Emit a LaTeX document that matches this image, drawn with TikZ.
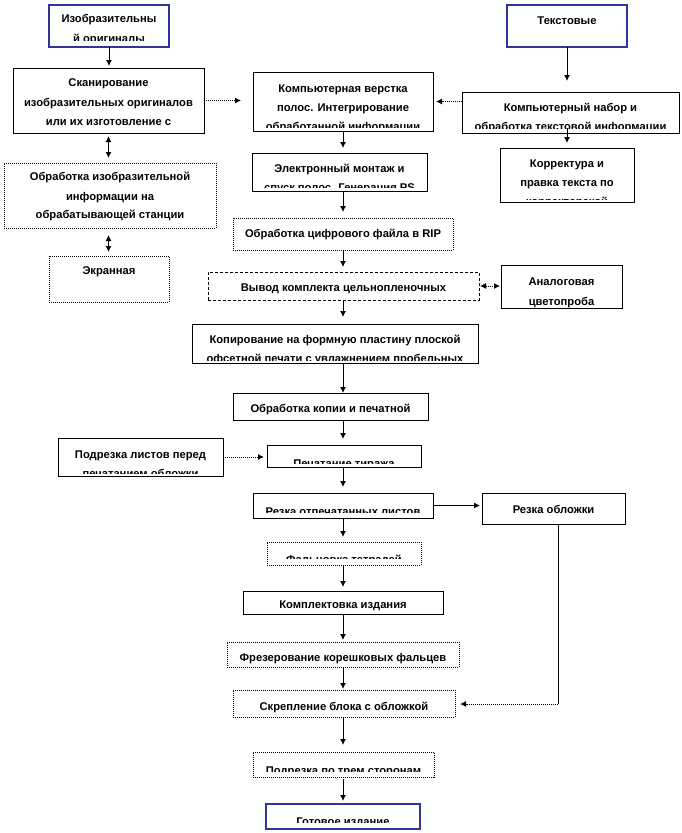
\documentclass[tikz,border=0pt]{standalone}
\usepackage{fontspec}
\setmainfont{Liberation Sans}
\usetikzlibrary{arrows.meta}
\definecolor{bblue}{RGB}{51,51,153}
\tikzset{
  txt/.style={inner sep=0pt, font=\fontsize{11.2}{12}\selectfont\bfseries},
  sb/.style={draw=black, line width=1pt, inner sep=0pt, outer sep=0pt, fill=white},
  db/.style={draw=black, line width=1pt, densely dotted, inner sep=0pt, outer sep=0pt, fill=white},
  hb/.style={draw=black, line width=1pt, densely dashed, inner sep=0pt, outer sep=0pt, fill=white},
  bb/.style={draw=bblue, line width=2.8pt, inner sep=0pt, outer sep=0pt, fill=white},
  arr/.style={line width=1pt, -{Latex[length=6pt,width=6pt]}},
  darr/.style={line width=1pt, {Latex[length=6pt,width=6pt]}-{Latex[length=6pt,width=6pt]}},
  dot/.style={densely dotted},
}
\newcommand\mkbox[8]{%
  \node[#1, anchor=north west, minimum width={(#5-#3)*1pt}, minimum height={(#6-#4)*1pt}] (#2) at (#3,#4) {};
  \begin{scope}
    \clip (#3,#4) rectangle (#5,#7);
    \foreach \myy/\mytxt [count=\i] in {#8} {\node[txt, anchor=base] (#2-\i) at ({(#3+#5)/2},\myy) {\mytxt};}
  \end{scope}}
\begin{document}
\begin{tikzpicture}[x=1pt,y=-1pt]
\useasboundingbox[fill=white] (0,0) rectangle (682,833);
\coordinate (sp) at (343,0);
% top sources
\mkbox{bb}{b1}{49}{5}{169}{47}{40}{22/Изобразительны, 42/й оригиналы}
\mkbox{bb}{b2}{507}{5}{627}{47}{44}{24/Текстовые}
% row 2
\mkbox{sb}{scan}{13}{68}{204}{133}{131}{86/Сканирование, 106/изобразительных оригиналов, 125/или их изготовление  с}
\mkbox{sb}{verst}{253}{72}{433}{131}{127}{92/Компьютерная верстка, 111/полос. Интегрирование, 130/обработанной информации}
\mkbox{sb}{nabor}{462}{92}{679}{133}{128}{111/Компьютерный набор и, 130/обработка текстовой информации}
\mkbox{sb}{korr}{500}{148}{634}{202}{199}{167/Корректура и, 186/правка текста по, 205/корректорской}
\mkbox{db}{obrizo}{4}{163}{216}{228}{226}{180/Обработка изобразительной, 200/информации на, 218/обрабатывающей станции}
\mkbox{db}{ekran}{49}{256}{169}{302}{300}{274/Экранная}
\mkbox{sb}{montazh}{252}{153}{427}{191}{187}{172/Электронный монтаж и, 191/спуск полос. Генерация PS}
\mkbox{db}{rip}{233}{218}{453}{250}{248}{237/Обработка цифрового файла в RIP}
\mkbox{hb}{vyvod}{208}{272}{479}{300}{298}{291/Вывод комплекта цельнопленочных}
\mkbox{sb}{analog}{501}{265}{622}{308}{307}{285/Аналоговая, 305/цветопроба}
\mkbox{sb}{kopir}{192}{324}{478}{363}{360}{343/Копирование на формную пластину плоской, 362/офсетной печати с увлажнением пробельных}
\mkbox{sb}{obrkop}{233}{393}{428}{420}{418}{412/Обработка копии и печатной}
\mkbox{sb}{podrez}{58}{438}{223}{476}{473}{458/Подрезка листов перед, 477/печатанием обложки}
\mkbox{sb}{pech}{267}{445}{421}{467}{463}{467/Печатание тиража}
\mkbox{sb}{rezka}{253}{493}{433}{518}{512}{515/Резка отпечатанных листов}
\mkbox{sb}{rezobl}{482}{493}{625}{524}{522}{513/Резка обложки}
\mkbox{db}{falc}{267}{542}{421}{565}{558}{563/Фальцовка тетрадей}
\mkbox{sb}{kompl}{243}{591}{443}{614}{611}{608/Комплектовка издания}
\mkbox{db}{frez}{227}{642}{459}{667}{664}{661/Фрезерование корешковых фальцев}
\mkbox{db}{skrep}{233}{690}{455}{717}{714}{710/Скрепление блока с обложкой}
\mkbox{db}{podr3}{253}{752}{434}{777}{771}{774/Подрезка по трем сторонам}
\mkbox{bb}{gotov}{266}{804}{420}{829}{822}{825/Готовое издание}
% connectors
\draw[arr, shorten >=2pt] (b1.south) -- (b1.south |- scan.north);
\draw[arr, shorten >=11pt] (b2.south) -- (b2.south |- nabor.north);
\draw[arr, dot, shorten >=12pt] (scan.east) -- (verst.west |- scan.east);
\draw[arr, dot, shorten >=3pt] (nabor.west |- verst.east) -- (verst.east);
\draw[arr, shorten <=-5pt, shorten >=5pt] (b2.south |- nabor.south) -- (b2.south |- korr.north);
\draw[darr, shorten <=3pt, shorten >=5pt] (scan.south) -- (scan.south |- obrizo.north);
\draw[darr, shorten <=7pt, shorten >=4pt] (obrizo.south -| scan.south) -- (scan.south |- ekran.north);
\draw[arr, shorten >=5pt] (verst.south -| sp) -- (montazh.north -| sp);
\draw[arr, shorten >=6pt] (montazh.south -| sp) -- (rip.north -| sp);
\draw[arr, shorten >=5pt] (rip.south -| sp) -- (vyvod.north -| sp);
\draw[arr, shorten >=7pt] (vyvod.south -| sp) -- (kopir.north -| sp);
\draw[arr, shorten >=0pt] (kopir.south -| sp) -- (obrkop.north -| sp);
\draw[arr, shorten >=6pt] (obrkop.south -| sp) -- (pech.north -| sp);
\draw[arr, shorten >=6pt] (pech.south -| sp) -- (rezka.north -| sp);
\draw[arr, shorten >=5pt] (rezka.south -| sp) -- (falc.north -| sp);
\draw[arr, shorten >=4pt] (falc.south -| sp) -- (kompl.north -| sp);
\draw[arr, shorten >=2pt] (kompl.south -| sp) -- (frez.north -| sp);
\draw[arr, shorten >=1pt] (frez.south -| sp) -- (skrep.north -| sp);
\draw[arr, shorten >=7pt] (skrep.south -| sp) -- (podr3.north -| sp);
\draw[arr, shorten <=2pt, shorten >=3pt] (podr3.south -| sp) -- (gotov.north -| sp);
\draw[darr, dot, shorten <=1pt, shorten >=1pt] (vyvod.east) -- (analog.west |- vyvod.east);
\draw[arr, dot, shorten >=3pt] (podrez.east) -- (pech.west |- podrez.east);
\draw[arr, shorten >=2pt] (rezka.east) -- (rezobl.west |- rezka.east);
\coordinate (corner) at (558,704);
\draw[line width=1pt] (rezobl.south -| corner) -- (corner);
\draw[arr, dot, shorten >=5pt] (corner) -- (skrep.east |- corner);
\end{tikzpicture}
\end{document}
